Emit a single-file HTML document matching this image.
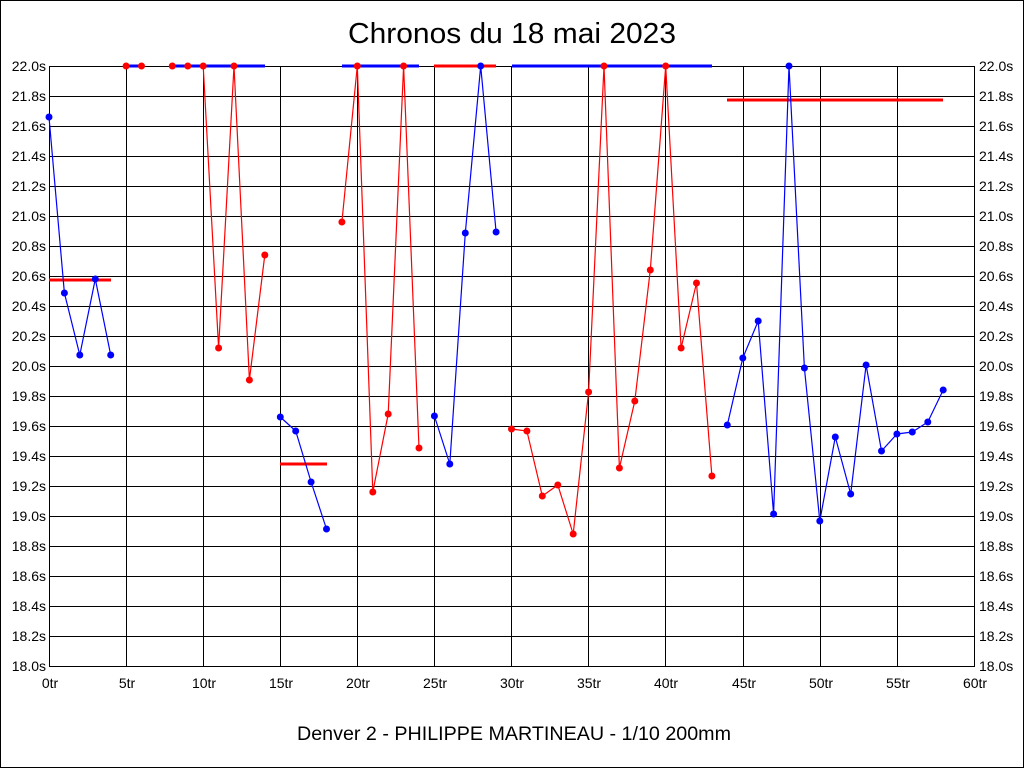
<!DOCTYPE html>
<html><head><meta charset="utf-8"><style>
html,body{margin:0;padding:0;background:#fff}
svg{display:block}
text{font-family:"Liberation Sans",Arial,sans-serif;fill:#000}
</style></head><body>
<svg width="1024" height="768" viewBox="0 0 1024 768" xmlns="http://www.w3.org/2000/svg">
<rect x="0.5" y="0.5" width="1023" height="767" fill="#fff" stroke="#000" stroke-width="1"/>
<text x="512" y="43" font-size="29" text-anchor="middle" textLength="328" lengthAdjust="spacingAndGlyphs">Chronos du 18 mai 2023</text>
<g stroke="#000" stroke-width="1" shape-rendering="crispEdges">
<line x1="49" y1="66.5" x2="974" y2="66.5"/><line x1="49" y1="96.5" x2="974" y2="96.5"/><line x1="49" y1="126.5" x2="974" y2="126.5"/><line x1="49" y1="156.5" x2="974" y2="156.5"/><line x1="49" y1="186.5" x2="974" y2="186.5"/><line x1="49" y1="216.5" x2="974" y2="216.5"/><line x1="49" y1="246.5" x2="974" y2="246.5"/><line x1="49" y1="276.5" x2="974" y2="276.5"/><line x1="49" y1="306.5" x2="974" y2="306.5"/><line x1="49" y1="336.5" x2="974" y2="336.5"/><line x1="49" y1="366.5" x2="974" y2="366.5"/><line x1="49" y1="396.5" x2="974" y2="396.5"/><line x1="49" y1="426.5" x2="974" y2="426.5"/><line x1="49" y1="456.5" x2="974" y2="456.5"/><line x1="49" y1="486.5" x2="974" y2="486.5"/><line x1="49" y1="516.5" x2="974" y2="516.5"/><line x1="49" y1="546.5" x2="974" y2="546.5"/><line x1="49" y1="576.5" x2="974" y2="576.5"/><line x1="49" y1="606.5" x2="974" y2="606.5"/><line x1="49" y1="636.5" x2="974" y2="636.5"/><line x1="49" y1="666.5" x2="974" y2="666.5"/>
<line x1="49.5" y1="66" x2="49.5" y2="667"/><line x1="126.5" y1="66" x2="126.5" y2="667"/><line x1="203.5" y1="66" x2="203.5" y2="667"/><line x1="280.5" y1="66" x2="280.5" y2="667"/><line x1="357.5" y1="66" x2="357.5" y2="667"/><line x1="434.5" y1="66" x2="434.5" y2="667"/><line x1="511.5" y1="66" x2="511.5" y2="667"/><line x1="588.5" y1="66" x2="588.5" y2="667"/><line x1="665.5" y1="66" x2="665.5" y2="667"/><line x1="743.5" y1="66" x2="743.5" y2="667"/><line x1="820.5" y1="66" x2="820.5" y2="667"/><line x1="897.5" y1="66" x2="897.5" y2="667"/><line x1="974.5" y1="66" x2="974.5" y2="667"/>
</g>
<g font-size="14" text-anchor="end">
<text x="46" y="71">22.0s</text><text x="46" y="101">21.8s</text><text x="46" y="131">21.6s</text><text x="46" y="161">21.4s</text><text x="46" y="191">21.2s</text><text x="46" y="221">21.0s</text><text x="46" y="251">20.8s</text><text x="46" y="281">20.6s</text><text x="46" y="311">20.4s</text><text x="46" y="341">20.2s</text><text x="46" y="371">20.0s</text><text x="46" y="401">19.8s</text><text x="46" y="431">19.6s</text><text x="46" y="461">19.4s</text><text x="46" y="491">19.2s</text><text x="46" y="521">19.0s</text><text x="46" y="551">18.8s</text><text x="46" y="581">18.6s</text><text x="46" y="611">18.4s</text><text x="46" y="641">18.2s</text><text x="46" y="671">18.0s</text>
</g>
<g font-size="14">
<text x="979" y="71">22.0s</text><text x="979" y="101">21.8s</text><text x="979" y="131">21.6s</text><text x="979" y="161">21.4s</text><text x="979" y="191">21.2s</text><text x="979" y="221">21.0s</text><text x="979" y="251">20.8s</text><text x="979" y="281">20.6s</text><text x="979" y="311">20.4s</text><text x="979" y="341">20.2s</text><text x="979" y="371">20.0s</text><text x="979" y="401">19.8s</text><text x="979" y="431">19.6s</text><text x="979" y="461">19.4s</text><text x="979" y="491">19.2s</text><text x="979" y="521">19.0s</text><text x="979" y="551">18.8s</text><text x="979" y="581">18.6s</text><text x="979" y="611">18.4s</text><text x="979" y="641">18.2s</text><text x="979" y="671">18.0s</text>
</g>
<g font-size="14" text-anchor="middle">
<text x="50" y="688">0tr</text><text x="127" y="688">5tr</text><text x="204" y="688">10tr</text><text x="281" y="688">15tr</text><text x="358" y="688">20tr</text><text x="435" y="688">25tr</text><text x="512" y="688">30tr</text><text x="589" y="688">35tr</text><text x="666" y="688">40tr</text><text x="744" y="688">45tr</text><text x="821" y="688">50tr</text><text x="898" y="688">55tr</text><text x="975" y="688">60tr</text>
</g>
<text x="514" y="740" font-size="19" text-anchor="middle" textLength="434" lengthAdjust="spacingAndGlyphs">Denver 2 - PHILIPPE MARTINEAU - 1/10 200mm</text>

<g stroke-width="3" fill="none">
<line x1="49" y1="280" x2="111" y2="280" stroke="#f00"/>
<line x1="126" y1="66" x2="142" y2="66" stroke="#00f"/>
<line x1="172" y1="66" x2="265" y2="66" stroke="#00f"/>
<line x1="280" y1="464" x2="327" y2="464" stroke="#f00"/>
<line x1="342" y1="66" x2="419" y2="66" stroke="#00f"/>
<line x1="434" y1="66" x2="496" y2="66" stroke="#f00"/>
<line x1="512" y1="66" x2="712" y2="66" stroke="#00f"/>
<line x1="727" y1="100" x2="943" y2="100" stroke="#f00"/>
</g>

<g fill="none" stroke-width="1.2">
<polyline stroke="#00f" points="49,117 64.4,293 79.8,355 95.3,279 110.7,355"/>
<polyline stroke="#f00" points="203.2,66 218.6,348 234,66 249.4,380 264.8,255"/>
<polyline stroke="#00f" points="280.3,417 295.7,431 311.1,482 326.5,529"/>
<polyline stroke="#f00" points="341.9,222 357.3,66 372.8,492 388.2,414 403.6,66 419,448"/>
<polyline stroke="#00f" points="434.4,416 449.8,464 465.3,233 480.7,66 496.1,232"/>
<polyline stroke="#f00" points="511.5,429 526.9,431 542.3,496 557.8,485 573.2,534 588.6,392 604,66 619.4,468 634.8,401 650.3,270 665.7,66 681.1,348 696.5,283 711.9,476"/>
<polyline stroke="#00f" points="727.3,425 742.8,358 758.2,321 773.6,514 789,66 804.4,368 819.8,521 835.3,437 850.7,494 866.1,365 881.5,451 896.9,434 912.3,432 927.8,422 943.2,390"/>
</g>

<g fill="#00f">
<circle cx="49" cy="117" r="3.5"/><circle cx="64.4" cy="293" r="3.5"/><circle cx="79.8" cy="355" r="3.5"/><circle cx="95.3" cy="279" r="3.5"/><circle cx="110.7" cy="355" r="3.5"/>
<circle cx="280.3" cy="417" r="3.5"/><circle cx="295.7" cy="431" r="3.5"/><circle cx="311.1" cy="482" r="3.5"/><circle cx="326.5" cy="529" r="3.5"/>
<circle cx="434.4" cy="416" r="3.5"/><circle cx="449.8" cy="464" r="3.5"/><circle cx="465.3" cy="233" r="3.5"/><circle cx="480.7" cy="66" r="3.5"/><circle cx="496.1" cy="232" r="3.5"/>
<circle cx="727.3" cy="425" r="3.5"/><circle cx="742.8" cy="358" r="3.5"/><circle cx="758.2" cy="321" r="3.5"/><circle cx="773.6" cy="514" r="3.5"/><circle cx="789" cy="66" r="3.5"/><circle cx="804.4" cy="368" r="3.5"/><circle cx="819.8" cy="521" r="3.5"/><circle cx="835.3" cy="437" r="3.5"/><circle cx="850.7" cy="494" r="3.5"/><circle cx="866.1" cy="365" r="3.5"/><circle cx="881.5" cy="451" r="3.5"/><circle cx="896.9" cy="434" r="3.5"/><circle cx="912.3" cy="432" r="3.5"/><circle cx="927.8" cy="422" r="3.5"/><circle cx="943.2" cy="390" r="3.5"/>
</g>
<g fill="#f00">
<circle cx="126.1" cy="66" r="3.5"/><circle cx="141.5" cy="66" r="3.5"/><circle cx="172.3" cy="66" r="3.5"/><circle cx="187.8" cy="66" r="3.5"/>
<circle cx="203.2" cy="66" r="3.5"/><circle cx="218.6" cy="348" r="3.5"/><circle cx="234" cy="66" r="3.5"/><circle cx="249.4" cy="380" r="3.5"/><circle cx="264.8" cy="255" r="3.5"/>
<circle cx="341.9" cy="222" r="3.5"/><circle cx="357.3" cy="66" r="3.5"/><circle cx="372.8" cy="492" r="3.5"/><circle cx="388.2" cy="414" r="3.5"/><circle cx="403.6" cy="66" r="3.5"/><circle cx="419" cy="448" r="3.5"/>
<circle cx="511.5" cy="429" r="3.5"/><circle cx="526.9" cy="431" r="3.5"/><circle cx="542.3" cy="496" r="3.5"/><circle cx="557.8" cy="485" r="3.5"/><circle cx="573.2" cy="534" r="3.5"/><circle cx="588.6" cy="392" r="3.5"/><circle cx="604" cy="66" r="3.5"/><circle cx="619.4" cy="468" r="3.5"/><circle cx="634.8" cy="401" r="3.5"/><circle cx="650.3" cy="270" r="3.5"/><circle cx="665.7" cy="66" r="3.5"/><circle cx="681.1" cy="348" r="3.5"/><circle cx="696.5" cy="283" r="3.5"/><circle cx="711.9" cy="476" r="3.5"/>
</g>
</svg>
</body></html>
